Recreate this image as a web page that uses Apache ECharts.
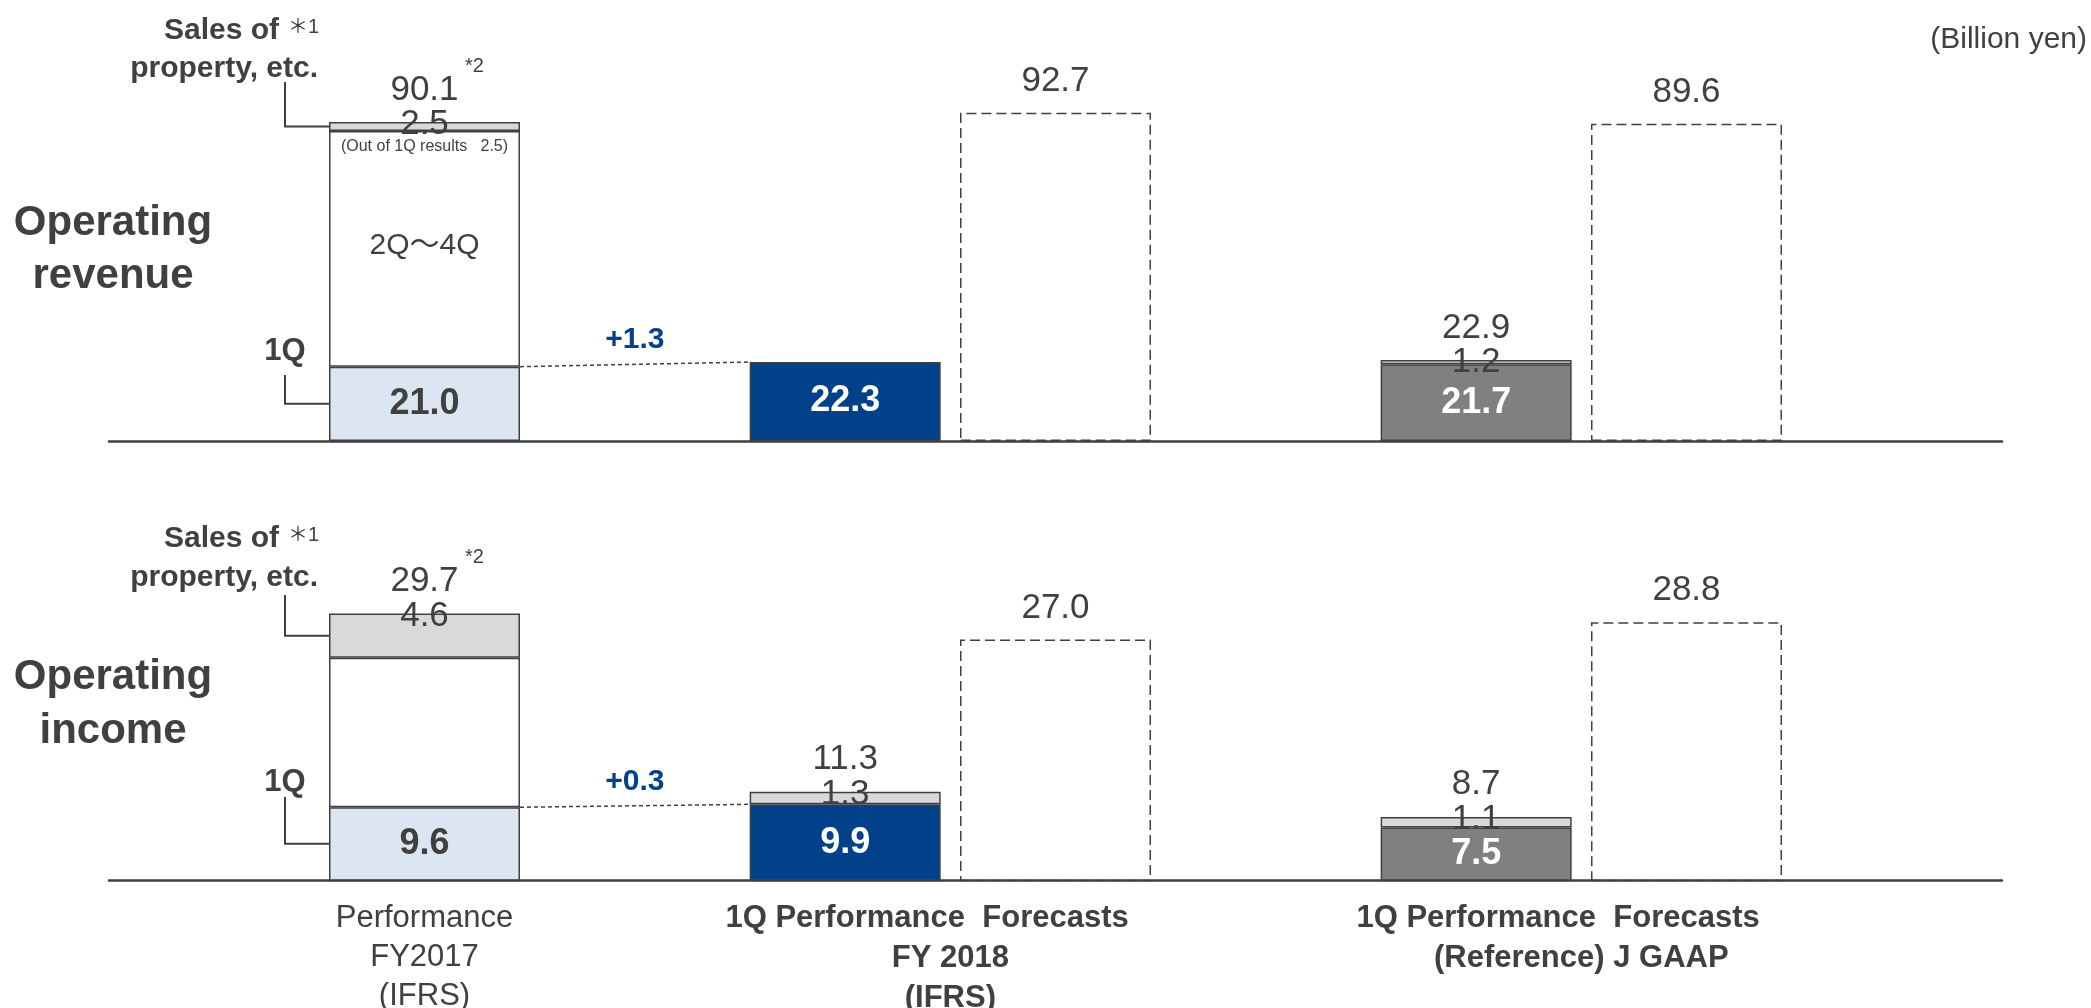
<!DOCTYPE html>
<html>
<head>
<meta charset="utf-8">
<script src="https://cdn.jsdelivr.net/npm/echarts@6/dist/echarts.min.js"></script>
<style>
  html, body { margin: 0; padding: 0; background: #ffffff; }
  #chart { width: 2091px; height: 1008px; }
</style>
</head>
<body>
<div id="chart"></div>
<script>
// Category slots (empty slots keep the spacing between the groups)
const categories = ['', 'FY2017', '', 'FY2018 1Q', 'FY2018 Forecasts', '', 'J GAAP 1Q', 'J GAAP Forecasts', ''];
const categoryLabels = ['', 'Performance\nFY2017\n(IFRS)', '', '1Q Performance', 'Forecasts', '', '1Q Performance', 'Forecasts', ''];
const groupLabels = { 'FY 2018\n(IFRS)': [3, 4], '(Reference) J GAAP': [6, 7] };

// Operating revenue (billion yen)
const revenueFirstQuarter = [null, 21.0, null, 22.3, null, null, 21.7, null, null];
const revenueProperty     = [null, 2.5,  null, null, null, null, 1.2,  null, null];
const revenueTotal        = [null, 90.1, null, null, null, null, 22.9, null, null];
const revenueForecast     = [null, null, null, null, 92.7, null, null, 89.6, null];
const revenuePropertyInFirstQuarter = 2.5;

// Operating income (billion yen)
const incomeFirstQuarter = [null, 9.6,  null, 9.9,  null, null, 7.5, null, null];
const incomeProperty     = [null, 4.6,  null, 1.3,  null, null, 1.1, null, null];
const incomeTotal        = [null, 29.7, null, 11.3, null, null, 8.7, null, null];
const incomeForecast     = [null, null, null, null, 27.0, null, null, 28.8, null];

const INK = '#404040';
const BLUE = '#00418a';
const FONT = '"Liberation Sans", Arial, "Noto Sans CJK JP", sans-serif';
const BAR_WIDTH = 191;
const FY2017 = 1;
const FY2018_Q1 = 3;
const baseStyles = {
  1: { fill: '#dce6f2', text: INK },
  3: { fill: BLUE, text: '#ffffff' },
  6: { fill: '#808080', text: '#ffffff' }
};

const panels = [
  {
    title: ['Operating', 'revenue'],
    q1: revenueFirstQuarter, property: revenueProperty, total: revenueTotal, forecast: revenueForecast,
    grid: { left: 109, width: 1893, top: 51.6, height: 389.4 },
    yRange: [0, 110],
    midLabel: '2Q～4Q',
    note: '(Out of 1Q results   ' + revenuePropertyInFirstQuarter.toFixed(1) + ')',
    layout: { salesY: [31, 69], leaderTop: 82, q1Y: 351, q1LeaderTop: 375, titleY: [223, 276] }
  },
  {
    title: ['Operating', 'income'],
    q1: incomeFirstQuarter, property: incomeProperty, total: incomeTotal, forecast: incomeForecast,
    grid: { left: 109, width: 1893, top: 591.3, height: 289.2 },
    yRange: [2, 32],
    midLabel: null,
    note: null,
    layout: { salesY: [539, 578], leaderTop: 595, q1Y: 782, q1LeaderTop: 797, titleY: [677, 731] }
  }
];

const fmt = v => (+v).toFixed(1);
const hole = v => (v == null ? '-' : v);

function panelSeries(p, idx) {
  const axes = { xAxisIndex: idx, yAxisIndex: idx, silent: true };
  const stack = 'panel' + idx;
  const bar = Object.assign({ type: 'bar', barWidth: BAR_WIDTH, barGap: '-100%' }, axes);
  const valueLabel = { fontFamily: FONT, fontSize: 35, color: INK };
  const rest = p.total.map((t, i) => (i === FY2017 ? t - p.q1[i] - p.property[i] : null));
  const invisible = { color: 'rgba(0,0,0,0)', opacity: 1 };
  const list = [];

  // first-quarter bars
  list.push(Object.assign({}, bar, {
    stack, z: 2,
    data: p.q1.map((v, i) => (v == null ? '-' : {
      value: v, itemStyle: { color: baseStyles[i].fill }, label: { color: baseStyles[i].text }
    })),
    itemStyle: { borderColor: INK, borderWidth: 1.5 },
    label: { show: true, position: 'inside', fontFamily: FONT, fontSize: 36, fontWeight: 'bold',
             formatter: d => fmt(d.value) }
  }));

  // 2Q-4Q remainder of the full-year result
  list.push(Object.assign({}, bar, {
    stack, z: 2,
    data: rest.map(hole),
    itemStyle: { color: '#ffffff', borderColor: INK, borderWidth: 1.5 },
    label: { show: !!p.midLabel, position: 'inside', offset: [0, -3], fontFamily: FONT, fontSize: 30,
             color: INK, formatter: () => p.midLabel }
  }));

  // sales of property, etc.
  list.push(Object.assign({}, bar, {
    stack, z: 2,
    data: p.property.map(hole),
    itemStyle: { color: '#d9d9d9', borderColor: INK, borderWidth: 1.5 },
    label: Object.assign({ show: true, position: 'top', distance: -20, formatter: d => fmt(d.value) }, valueLabel)
  }));

  // full-year forecasts
  list.push(Object.assign({}, bar, {
    z: 2,
    data: p.forecast.map(hole),
    itemStyle: { color: '#ffffff', borderColor: INK, borderWidth: 1.5, borderType: [10, 5] },
    label: Object.assign({ show: true, position: 'top', distance: 14, formatter: d => fmt(d.value) }, valueLabel)
  }));

  // totals above the stacks
  list.push(Object.assign({
    type: 'scatter', z: 3, symbolSize: 1, itemStyle: invisible,
    data: p.total.map(hole),
    label: Object.assign({ show: true, position: 'top', distance: 14, formatter: d => fmt(d.value) }, valueLabel)
  }, axes));

  // footnote mark on the FY2017 total
  list.push(Object.assign({
    type: 'scatter', z: 3, symbolSize: 1, itemStyle: invisible,
    data: p.total.map((v, i) => (i === FY2017 ? v : '-')),
    label: { show: true, position: 'top', distance: 45, offset: [50, 0], fontFamily: FONT, fontSize: 20,
             color: INK, formatter: () => '*2' }
  }, axes));

  // year-on-year change of the first quarter
  list.push(Object.assign({
    type: 'scatter', z: 3, symbolSize: 1, itemStyle: invisible,
    data: categories.map((c, i) => (i === 2 ? (p.q1[FY2017] + p.q1[FY2018_Q1]) / 2 : '-')),
    label: { show: true, position: 'top', distance: 9, fontFamily: FONT, fontSize: 30, fontWeight: 'bold',
             color: '#00428f', formatter: () => '+' + fmt(p.q1[FY2018_Q1] - p.q1[FY2017]) }
  }, axes));

  // note under the property band
  if (p.note) {
    list.push(Object.assign({
      type: 'scatter', z: 3, symbolSize: 1, itemStyle: invisible,
      data: p.total.map((v, i) => (i === FY2017 ? v - p.property[i] : '-')),
      label: { show: true, position: 'bottom', distance: 7, fontFamily: FONT, fontSize: 16,
               color: INK, formatter: () => p.note }
    }, axes));
  }
  return list;
}

const chart = echarts.init(document.getElementById('chart'), null, { renderer: 'canvas' });

const normalRich = { fontFamily: FONT, fontSize: 31, lineHeight: 39, color: INK };
const boldRich = { fontFamily: FONT, fontSize: 31, lineHeight: 39, color: INK, fontWeight: 'bold' };
const AXIS_LABEL_MARGIN = 18;

chart.setOption({
  animation: false,
  backgroundColor: '#ffffff',
  textStyle: { fontFamily: FONT },
  grid: panels.map(p => Object.assign({ outerBoundsMode: 'none', containLabel: false }, p.grid)),
  xAxis: panels.map((p, idx) => ({
    type: 'category', gridIndex: idx, data: categories, z: 5,
    axisLine: { show: true, lineStyle: { color: INK, width: 2.5 } },
    axisTick: { show: false },
    axisLabel: {
      show: idx === 1, interval: 0, margin: AXIS_LABEL_MARGIN,
      formatter: (value, i) => {
        const text = categoryLabels[i];
        if (!text) return '';
        const tag = i === FY2017 ? 'n' : 'b';
        return text.split('\n').map(line => '{' + tag + '|' + line + '}').join('\n');
      },
      rich: { n: normalRich, b: boldRich }
    }
  })),
  yAxis: panels.map((p, idx) => ({
    type: 'value', gridIndex: idx, min: p.yRange[0], max: p.yRange[1], show: false
  })),
  series: panels.flatMap((p, idx) => panelSeries(p, idx))
});

// annotations placed from the axes' own pixel mapping
const graphics = [];
const textEl = (text, x, y, style) => ({
  type: 'text', silent: true,
  style: Object.assign({ text, x, y, fill: INK, fontFamily: FONT, verticalAlign: 'middle' }, style)
});

panels.forEach((p, idx) => {
  const finder = { gridIndex: idx };
  const px = (cat, v) => chart.convertToPixel(finder, [cat, v]);
  const barLeft = px(FY2017, p.yRange[0])[0] - BAR_WIDTH / 2;
  const leaderX = barLeft - 44;
  const capMidY = px(FY2017, p.total[FY2017] - p.property[FY2017] / 2)[1];
  const q1MidY = px(FY2017, (p.q1[FY2017] + p.yRange[0]) / 2)[1];
  const L = p.layout;

  graphics.push(textEl(p.title[0], 113, L.titleY[0], { fontSize: 42, fontWeight: 'bold', align: 'center' }));
  graphics.push(textEl(p.title[1], 113, L.titleY[1], { fontSize: 42, fontWeight: 'bold', align: 'center' }));
  graphics.push(textEl('Sales of', barLeft - 50, L.salesY[0], { fontSize: 30, fontWeight: 'bold', align: 'right' }));
  graphics.push(textEl('＊1', barLeft - 10, L.salesY[0] - 4, { fontSize: 20, align: 'right' }));
  graphics.push(textEl('property, etc.', barLeft - 11, L.salesY[1], { fontSize: 30, fontWeight: 'bold', align: 'right' }));
  graphics.push(textEl('1Q', leaderX, L.q1Y, { fontSize: 31, fontWeight: 'bold', align: 'center' }));

  graphics.push({
    type: 'polyline', silent: true,
    shape: { points: [[leaderX, L.leaderTop], [leaderX, capMidY], [barLeft, capMidY]] },
    style: { stroke: INK, lineWidth: 2, fill: null }
  });
  graphics.push({
    type: 'polyline', silent: true,
    shape: { points: [[leaderX, L.q1LeaderTop], [leaderX, q1MidY], [barLeft, q1MidY]] },
    style: { stroke: INK, lineWidth: 2, fill: null }
  });

  // dotted link from the FY2017 first quarter to the FY2018 first quarter
  const from = px(FY2017, p.q1[FY2017]);
  const to = px(FY2018_Q1, p.q1[FY2018_Q1]);
  graphics.push({
    type: 'line', silent: true,
    shape: { x1: from[0] + BAR_WIDTH / 2, y1: from[1], x2: to[0] - BAR_WIDTH / 2, y2: to[1] },
    style: { stroke: INK, lineWidth: 1.5, lineDash: [4, 3] }
  });
});

// group captions under the bottom axis
const bottomBase = chart.convertToPixel({ gridIndex: 1 }, [0, panels[1].yRange[0]])[1];
Object.keys(groupLabels).forEach(text => {
  const [a, b] = groupLabels[text];
  const xa = chart.convertToPixel({ gridIndex: 1 }, [a, panels[1].yRange[0]])[0];
  const xb = chart.convertToPixel({ gridIndex: 1 }, [b, panels[1].yRange[0]])[0];
  graphics.push({
    type: 'text', silent: true,
    style: { text, x: (xa + xb) / 2, y: bottomBase + AXIS_LABEL_MARGIN + 40, fill: INK, fontFamily: FONT,
             fontSize: 31, fontWeight: 'bold', lineHeight: 40, align: 'center', verticalAlign: 'top' }
  });
});

graphics.push(textEl('(Billion yen)', 2087, 40, { fontSize: 30, align: 'right' }));

chart.setOption({ graphic: graphics });
</script>
</body>
</html>
